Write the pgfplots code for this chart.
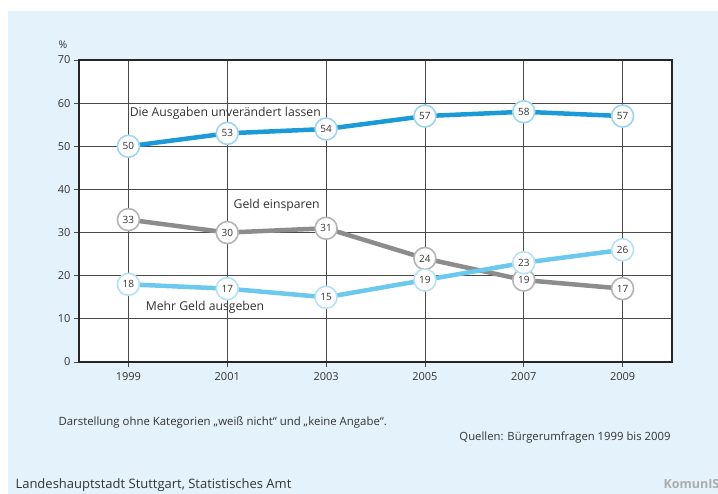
\documentclass[border=0pt]{standalone}
\usepackage{pgfplots}
\pgfplotsset{compat=1.18}
\usepackage{fontspec}
\setmainfont{Open Sans}

\definecolor{panel}{HTML}{E3F2FB}
\definecolor{gridc}{HTML}{4A4A4A}
\definecolor{txt}{HTML}{333333}
\definecolor{sBlue}{HTML}{1A9AD6}
\definecolor{sBlueLt}{HTML}{9ED6F0}
\definecolor{sCyan}{HTML}{6CC8EC}
\definecolor{sCyanLt}{HTML}{B5E2F5}
\definecolor{sGray}{HTML}{8C8C8C}
\definecolor{sGrayLt}{HTML}{B4B4B4}

% survey results in percent
\pgfplotstableread{
year unveraendert einsparen mehr
1999 50 33 18
2001 53 30 17
2003 54 31 15
2005 57 24 19
2007 58 19 23
2009 57 17 26
}\umfrage

\begin{document}
\begin{tikzpicture}[x=1pt,y=1pt]
\useasboundingbox (0,0) rectangle (718,494);
\fill[white] (0,0) rectangle (718,494);
\fill[panel] (8,0) rectangle (718,483);

\begin{axis}[
  at={(79pt,132pt)}, anchor=south west,
  scale only axis, width=593pt, height=302pt,
  xmin=1998, xmax=2010, ymin=0, ymax=70,
  xtick={1999,2001,2003,2005,2007,2009},
  ytick={0,10,...,70},
  x tick label style={/pgf/number format/1000 sep={}, yshift=-2pt},
  /pgf/number format/assume math mode=true,
  tick label style={font=\fontsize{11}{13}\selectfont, text=txt},
  tick align=outside, xtick pos=left, ytick pos=left,
  major tick length=5pt,
  tick style={gridc, line width=0.8pt},
  grid=major,
  major grid style={gridc, line width=0.8pt},
  axis line style={black!85, line width=1.2pt},
  axis background/.style={fill=white},
  clip=false,
  every node near coord/.append style={
    circle, fill=white, anchor=center, inner sep=0pt, minimum size=22pt,
    line width=1.6pt, font=\fontsize{10}{12}\selectfont, text=txt},
]
\addplot[sGray, line width=4.5pt] table[x=year, y=einsparen] {\umfrage};
\addplot[sCyan, line width=4.5pt] table[x=year, y=mehr] {\umfrage};
\addplot[sBlue, line width=4.5pt] table[x=year, y=unveraendert] {\umfrage};

\addplot[draw=none, nodes near coords,
  every node near coord/.append style={draw=sGrayLt}]
  table[x=year, y=einsparen] {\umfrage};
\addplot[draw=none, nodes near coords,
  every node near coord/.append style={draw=sCyanLt}]
  table[x=year, y=mehr] {\umfrage};
\addplot[draw=none, nodes near coords,
  every node near coord/.append style={draw=sBlueLt}]
  table[x=year, y=unveraendert] {\umfrage};

\node[font=\fontsize{12.2}{14}\selectfont, text=txt] at (axis cs:2000.96,57.7) {Die Ausgaben unverändert lassen};
\node[font=\fontsize{12.2}{14}\selectfont, text=txt] at (axis cs:2002.0,36.4) {Geld einsparen};
\node[font=\fontsize{12.2}{14}\selectfont, text=txt] at (axis cs:2000.55,12.7) {Mehr Geld ausgeben};
\end{axis}

\node[font=\fontsize{10.5}{12}\selectfont, text=txt] at (63,449) {\%};
\node[font=\fontsize{11.4}{13}\selectfont, text=txt, anchor=west] at (55,71)
  {Darstellung ohne Kategorien „weiß nicht“ und „keine Angabe“.};
\node[font=\fontsize{11.3}{13}\selectfont, text=txt, anchor=east] at (674,56)
  {Quellen: Bürgerumfragen 1999 bis 2009};
\node[font=\fontsize{13}{15}\selectfont, text=txt, anchor=base west] at (12,5)
  {Landeshauptstadt Stuttgart, Statistisches Amt};
\node[font=\bfseries\fontsize{12.5}{14}\selectfont, text=gray!65, anchor=base west] at (660,5)
  {KomunIS};
\end{tikzpicture}
\end{document}
